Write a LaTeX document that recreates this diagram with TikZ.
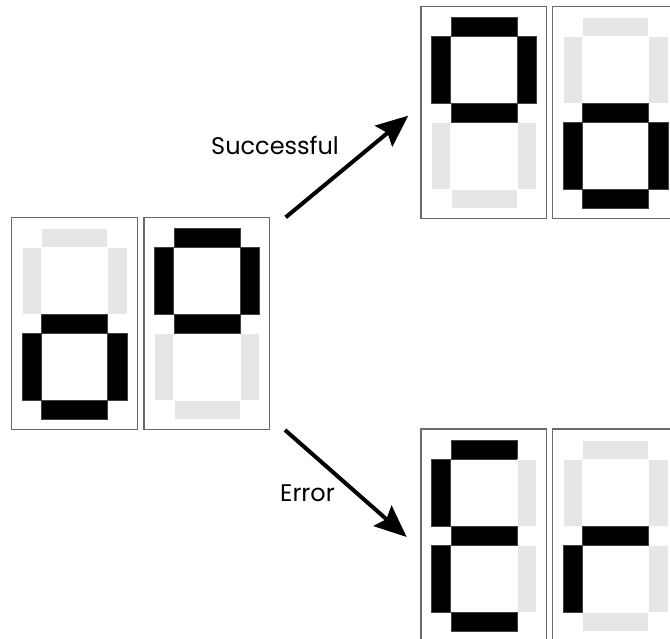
\documentclass[tikz,border=0pt]{standalone}
\usepackage{fontspec}
\setmainfont{Poppins}
\usetikzlibrary{arrows.meta}
\definecolor{segdim}{RGB}{230,230,230}
\definecolor{framegray}{RGB}{105,105,105}
\tikzset{
  dispbox/.style={draw=framegray, line width=1.4pt, fill=white,
    minimum width=125.5pt, minimum height=212pt, inner sep=0pt,
    outer sep=0pt, anchor=north west},
  segon/.style={fill=black, draw=black!75, line width=0.5pt},
  segoff/.style={fill=segdim, draw=white, line width=0.5pt},
  flow/.style={line width=4pt, -{Stealth[length=32pt,width=27pt,inset=5pt]}},
  lbl/.style={font=\fontsize{24}{28}\selectfont, anchor=base west, inner sep=0pt}
}
% one seven-segment display: #1 name, #2..#8 styles of segments a..g
\newcommand{\sevenseg}[8]{%
  \node[dispbox] (#1) at (0,0) {};
  \path[#2] (30,11)    rectangle (96,30);    % a
  \path[#3] (96,30)    rectangle (115.3,97); % b
  \path[#4] (96,116)   rectangle (115.3,183);% c
  \path[#5] (30,183)   rectangle (96,202);   % d
  \path[#6] (10.5,116) rectangle (29.5,183); % e
  \path[#7] (10.5,30)  rectangle (29.5,97);  % f
  \path[#8] (30,97)    rectangle (96,116);   % g
}
\begin{document}
\begin{tikzpicture}[x=1pt, y=-1pt]
  \clip (0,0) rectangle (670,639);
  \fill[white] (0,0) rectangle (670,639);

  % current reading
  \begin{scope}[shift={(11.7,217.3)}]
    \sevenseg{inA}{segoff}{segoff}{segon}{segon}{segon}{segoff}{segon}
  \end{scope}
  \begin{scope}[shift={(144,217.3)}]
    \sevenseg{inB}{segon}{segon}{segoff}{segoff}{segoff}{segon}{segon}
  \end{scope}

  % swapped reading
  \begin{scope}[shift={(421,6.7)}]
    \sevenseg{okA}{segon}{segon}{segoff}{segoff}{segoff}{segon}{segon}
  \end{scope}
  \begin{scope}[shift={(552.7,6.7)}]
    \sevenseg{okB}{segoff}{segoff}{segon}{segon}{segon}{segoff}{segon}
  \end{scope}

  % "Er"
  \begin{scope}[shift={(421,429)}]
    \sevenseg{errA}{segon}{segoff}{segoff}{segon}{segon}{segon}{segon}
  \end{scope}
  \begin{scope}[shift={(552.7,429)}]
    \sevenseg{errB}{segoff}{segoff}{segoff}{segoff}{segon}{segoff}{segon}
  \end{scope}

  \coordinate (okstart)  at (285.7,217.3);
  \coordinate (okend)    at (408.3,115.7);
  \coordinate (errstart) at (285,430);
  \coordinate (errend)   at (406.7,537);

  \draw[flow] (okstart) -- (okend);
  \draw[flow] (errstart) -- (errend);

  \node[lbl] (oklabel)  at (211,154.3) {Successful};
  \node[lbl] (errlabel) at (280,501.7) {Error};
\end{tikzpicture}
\end{document}
